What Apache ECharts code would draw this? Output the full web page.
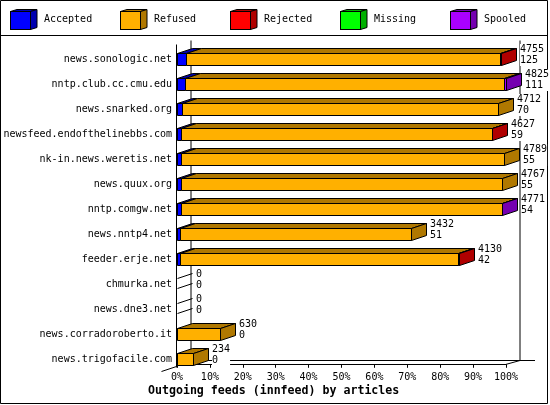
<!DOCTYPE html>
<html><head><meta charset="utf-8">
<script src="https://cdn.jsdelivr.net/npm/echarts@6/dist/echarts.min.js"></script>
<style>html,body{margin:0;padding:0;background:#fff}#c{width:550px;height:405px}</style>
</head><body><div id="c"></div>
<script>
// ---- data ----
const feeds = ['news.sonologic.net','nntp.club.cc.cmu.edu','news.snarked.org','newsfeed.endofthelinebbs.com','nk-in.news.weretis.net','news.quux.org','nntp.comgw.net','news.nntp4.net','feeder.erje.net','chmurka.net','news.dne3.net','news.corradoroberto.it','news.trigofacile.com'];
const accepted = [125,111,70,59,55,55,54,51,42,0,0,0,0];
const refused  = [4610,4689,4642,4558,4734,4712,4707,3381,4078,0,0,630,234];
const rejected = [20,0,0,10,0,0,0,0,10,0,0,0,0];
const missing  = [0,0,0,0,0,0,0,0,0,0,0,0,0];
const spooled  = [0,25,0,0,0,0,10,0,0,0,0,0,0];
const seriesNames = ['Accepted','Refused','Rejected','Missing','Spooled'];
const axisTitle = 'Outgoing feeds (innfeed) by articles';
const tickCount = 10; // 0%..100%

// ---- styles ----
const frontColors = ['#0000ff','#ffb000','#ff0000','#00ff00','#aa00ff'];
const sideColors  = ['#0000b0','#b07800','#b00000','#00b000','#7500b0'];
const FONT = '"DejaVu Sans Mono", monospace';
const DX = 15, DY = 5, HALF = 6;

const segs = [accepted, refused, rejected, missing, spooled];
const totals = feeds.map((f, r) => segs.reduce((s, a) => s + a[r], 0));
const maxTotal = Math.max(...totals);

function lastSeg(row) { let l = -1; segs.forEach((a, i) => { if (a[row] > 0) l = i; }); return l; }

function makeSeries(k) {
  const data = feeds.map((f, row) => {
    let s = 0; for (let j = 0; j < k; j++) s += segs[j][row];
    return [s, s + segs[k][row], row];
  });
  return {
    type: 'custom', name: seriesNames[k], coordinateSystem: 'cartesian2d',
    encode: { x: [0, 1], y: 2 }, data, z: 2,
    renderItem(params, api) {
      const s = api.value(0), e = api.value(1), row = api.value(2);
      if (e <= s) return null;
      const p0 = api.coord([s, row]), p1 = api.coord([e, row]);
      const cy = Math.round(p0[1]);
      const t = cy - HALF + 0.5, b = cy + HALF + 0.5;
      const x0 = Math.round(p0[0]) + 0.5, x1 = Math.round(p1[0]) + 0.5;
      const st = { stroke: '#000', lineWidth: 1 };
      const ch = [
        { type: 'rect', shape: { x: x0, y: t, width: x1 - x0, height: b - t }, style: Object.assign({ fill: frontColors[k] }, st) },
        { type: 'polygon', shape: { points: [[x0, t], [x1, t], [x1 + DX, t - DY], [x0 + DX, t - DY]] }, style: Object.assign({ fill: sideColors[k] }, st) }
      ];
      if (lastSeg(row) === k) ch.push({ type: 'polygon', shape: { points: [[x1, t], [x1 + DX, t - DY], [x1 + DX, b - DY], [x1, b]] }, style: Object.assign({ fill: sideColors[k] }, st) });
      return { type: 'group', children: ch };
    }
  };
}

const labelSeries = {
  type: 'custom', name: 'values', coordinateSystem: 'cartesian2d',
  encode: { x: 0, y: 1 }, z: 5,
  data: feeds.map((f, row) => [totals[row], row, accepted[row]]),
  renderItem(params, api) {
    const tot = api.value(0), row = api.value(1), acc = api.value(2);
    const p = api.coord([tot, row]);
    const cy = Math.round(p[1]);
    const ch = [];
    if (tot === 0) {
      const x0 = Math.round(p[0]) + 0.5;
      [cy - HALF + 0.5, cy + HALF - 1.5].forEach(y => ch.push({ type: 'line', shape: { x1: x0, y1: y, x2: x0 + DX, y2: y - DY }, style: { stroke: '#000', lineWidth: 1 } }));
    }
    ch.push({ type: 'text', x: Math.round(p[0]) + 19, y: cy - 4,
      style: { text: tot + '\n' + acc, fontFamily: FONT, fontSize: 10, fill: '#000', align: 'left', verticalAlign: 'middle', lineHeight: 11, backgroundColor: '#fff' } });
    return { type: 'group', children: ch };
  }
};

function cubeIcon(front, side) {
  const svg = '<svg xmlns="http://www.w3.org/2000/svg" width="29" height="21" viewBox="0 0 29 21">' +
    '<polygon points="0.5,2.5 7,0.5 27,0.5 20.5,2.5" fill="' + side + '" stroke="#000"/>' +
    '<polygon points="20.5,2.5 27,0.5 27,18.5 20.5,20.5" fill="' + side + '" stroke="#000"/>' +
    '<rect x="0.5" y="2.5" width="20" height="18" fill="' + front + '" stroke="#000"/></svg>';
  return 'image://data:image/svg+xml;charset=utf-8,' + encodeURIComponent(svg);
}

const chart = echarts.init(document.getElementById('c'), null, { renderer: 'canvas' });
chart.setOption({
  animation: false,
  backgroundColor: '#fff',
  title: { text: axisTitle, left: 148, top: 385, padding: 0,
    textStyle: { fontFamily: FONT, fontSize: 11.6, fontWeight: 'bold', color: '#000' } },
  legend: seriesNames.map((n, i) => ({
    data: [{ name: n, icon: cubeIcon(frontColors[i], sideColors[i]) }],
    left: 10 + i * 110, top: 9, padding: 0, itemWidth: 29, itemHeight: 21, selectedMode: false,
    textStyle: { fontFamily: FONT, fontSize: 10, color: '#000' }
  })),
  grid: { left: 177, right: 44, top: 46.8, bottom: 33.2 },
  xAxis: {
    type: 'value', min: 0, max: maxTotal, interval: maxTotal / tickCount, offset: -7.5,
    axisLine: { show: true, lineStyle: { color: '#000', width: 1 } },
    axisTick: { show: true, length: 3.5, lineStyle: { color: '#000' } },
    axisLabel: { formatter: v => Math.round(v / maxTotal * 100) + '%', fontFamily: FONT, fontSize: 10, color: '#000', margin: 8 },
    splitLine: { show: false }
  },
  yAxis: {
    type: 'category', data: feeds, inverse: true,
    axisLine: { show: false }, axisTick: { show: false }, splitLine: { show: false },
    axisLabel: { interval: 0, margin: 5, fontFamily: FONT, fontSize: 10, color: '#000' }
  },
  series: seriesNames.map((n, k) => makeSeries(k)).concat([labelSeries])
});

// ---- 3D frame from axis pixel positions ----
const X0 = Math.round(chart.convertToPixel({ xAxisIndex: 0 }, 0)) - 0.5;
const X1 = Math.round(chart.convertToPixel({ xAxisIndex: 0 }, maxTotal)) - 0.5;
const yFirst = chart.convertToPixel({ yAxisIndex: 0 }, 0);
const yLast = chart.convertToPixel({ yAxisIndex: 0 }, feeds.length - 1);
const topF = Math.round(yFirst - 15) + 0.5;
const floorF = Math.round(yLast + 5) + 0.5;
const FDX = 14.5, FDY = 4;
const ln = (x1, y1, x2, y2) => ({ type: 'line', z: 0, shape: { x1, y1, x2, y2 }, style: { stroke: '#000', lineWidth: 1 } });
chart.setOption({
  graphic: { elements: [
    { type: 'rect', z: 0, shape: { x: 0.5, y: 0.5, width: 547, height: 403 }, style: { fill: 'none', stroke: '#000', lineWidth: 1 } },
    ln(0, 35.5, 548, 35.5),
    ln(X0, topF, X0, floorF + 3),
    ln(X0 + FDX, topF - FDY, X0 + FDX, floorF - FDY),
    ln(X1 + FDX, topF - FDY, X1 + FDX, floorF - FDY),
    ln(X0 + FDX, floorF - FDY, X1 + FDX + 15, floorF - FDY),
    ln(X1, floorF, X1 + FDX, floorF - FDY),
    ln(X0 - 15, floorF + 7, X0, floorF + 2)
  ] }
});
</script>
</body></html>
